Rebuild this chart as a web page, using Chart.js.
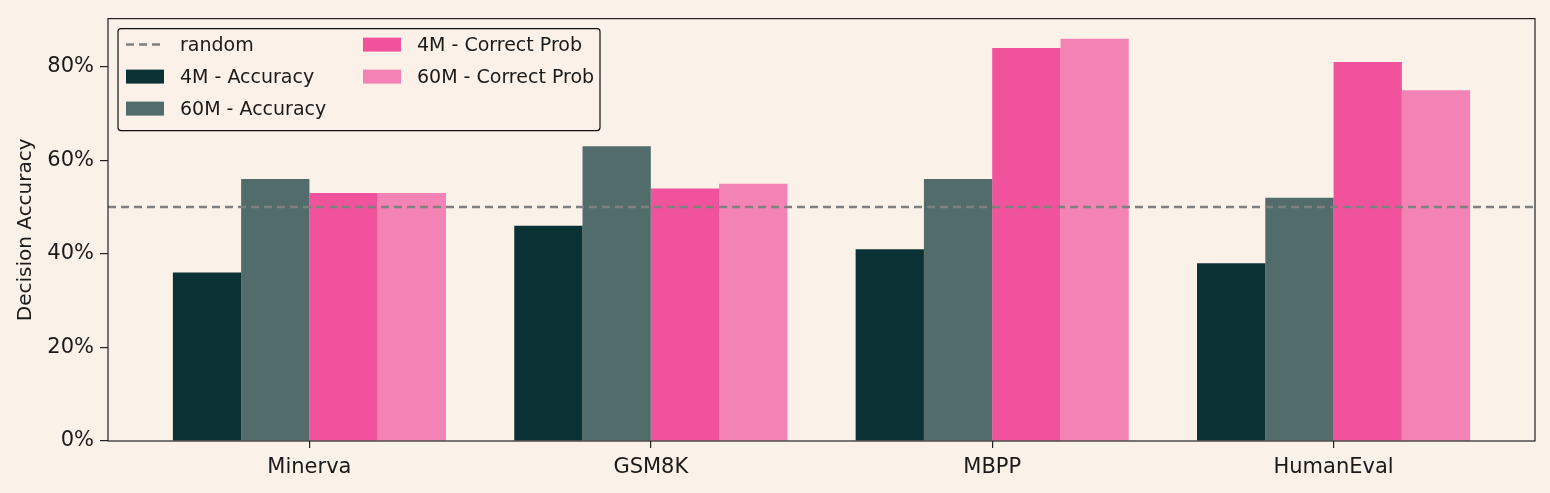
<!DOCTYPE html>
<html>
<head>
<meta charset="utf-8">
<script src="https://cdn.jsdelivr.net/npm/chart.js@4.4.1/dist/chart.umd.min.js"></script>
<style>
  html, body { margin: 0; padding: 0; background: #FAF1E8; }
  #wrap { width: 1550px; height: 493px; }
</style>
</head>
<body>
<div id="wrap"><canvas id="chart" width="1550" height="493"></canvas></div>
<script>
const categories = ['Minerva', 'GSM8K', 'MBPP', 'HumanEval'];
const acc4M = [36, 46, 41, 38];
const acc60M = [56, 63, 56, 52];
const prob4M = [53, 54, 84, 81];
const prob60M = [53, 55, 86, 75];
const randomLevel = 50;
const yTicks = [0, 20, 40, 60, 80];

const seriesNames = ['4M - Accuracy', '60M - Accuracy', '4M - Correct Prob', '60M - Correct Prob'];
const seriesColors = ['#0A3235', '#526B6B', '#F0529C', '#F283B4'];
const seriesValues = [acc4M, acc60M, prob4M, prob60M];

const FONT = 'DejaVu Sans';

function toPoints(vals) {
  return vals.map((v, i) => ({ x: i, y: v }));
}

const barSets = seriesValues.map((vals, k) => ({
  type: 'bar',
  label: seriesNames[k],
  data: toPoints(vals),
  backgroundColor: seriesColors[k],
  borderWidth: 0,
  categoryPercentage: 0.8,
  barPercentage: 1.0,
  order: 2
}));

const xMin = -0.59, xMax = categories.length - 1 + 0.59;

const randomSet = {
  type: 'line',
  label: 'random',
  data: [{ x: xMin, y: randomLevel }, { x: xMax, y: randomLevel }],
  borderColor: '#808080',
  borderWidth: 2.5,
  borderDash: [8, 5],
  pointRadius: 0,
  fill: false,
  order: 0
};

// frame around the plot + legend box
const framePlugin = {
  id: 'frame',
  afterDraw(chart) {
    const { ctx, chartArea: a } = chart;
    ctx.save();
    ctx.strokeStyle = '#222';
    ctx.lineWidth = 1.2;
    ctx.strokeRect(a.left, a.top, a.right - a.left, a.bottom - a.top);

    // legend
    const lx = a.left + 10, ly = a.top + 10, lw = 482, lh = 102;
    ctx.fillStyle = 'rgba(250,241,232,0.85)';
    ctx.strokeStyle = '#111';
    ctx.lineWidth = 1.2;
    ctx.beginPath();
    ctx.roundRect(lx, ly, lw, lh, 3);
    ctx.fill();
    ctx.stroke();

    ctx.font = '19px "' + FONT + '"';
    ctx.textBaseline = 'middle';
    const items = [
      { col: 0, row: 0, label: 'random', dash: true },
      { col: 0, row: 1, label: seriesNames[0], color: seriesColors[0] },
      { col: 0, row: 2, label: seriesNames[1], color: seriesColors[1] },
      { col: 1, row: 0, label: seriesNames[2], color: seriesColors[2] },
      { col: 1, row: 1, label: seriesNames[3], color: seriesColors[3] }
    ];
    items.forEach(it => {
      const hx = lx + 8 + it.col * 237;
      const cy = ly + 16 + it.row * 32;
      if (it.dash) {
        ctx.save();
        ctx.strokeStyle = '#808080';
        ctx.lineWidth = 2.5;
        ctx.setLineDash([8, 5]);
        ctx.beginPath();
        ctx.moveTo(hx, cy);
        ctx.lineTo(hx + 38, cy);
        ctx.stroke();
        ctx.restore();
      } else {
        ctx.fillStyle = it.color;
        ctx.fillRect(hx, cy - 7, 38, 14);
      }
      ctx.fillStyle = '#1a1a1a';
      ctx.fillText(it.label, hx + 54, cy + 1);
    });
    ctx.restore();
  }
};

new Chart(document.getElementById('chart'), {
  data: { datasets: [...barSets, randomSet] },
  options: {
    responsive: false,
    animation: false,
    layout: { padding: { left: 0, right: 15, top: 16, bottom: 0 } },
    plugins: {
      legend: { display: false },
      tooltip: { enabled: false }
    },
    scales: {
      x: {
        type: 'linear',
        min: xMin,
        max: xMax,
        offset: false,
        afterBuildTicks: s => { s.ticks = categories.map((c, i) => ({ value: i })); },
        afterFit: s => { s.height = 52; },
        ticks: {
          callback: v => categories[v],
          color: '#1a1a1a',
          font: { family: FONT, size: 21 },
          padding: 7,
          maxRotation: 0,
          autoSkip: false
        },
        grid: { offset: false, drawOnChartArea: false, tickLength: 7, tickColor: '#222', lineWidth: 1.2 },
        border: { display: false }
      },
      y: {
        type: 'linear',
        min: 0,
        max: 90.3,
        afterBuildTicks: s => { s.ticks = yTicks.map(v => ({ value: v })); },
        afterFit: s => { s.width = 108; },
        ticks: {
          callback: v => v + '%',
          color: '#1a1a1a',
          font: { family: FONT, size: 21 },
          padding: 6
        },
        grid: { drawOnChartArea: false, tickLength: 8, tickColor: '#222', lineWidth: 1.2 },
        border: { display: false },
        title: {
          display: true,
          text: 'Decision Accuracy',
          color: '#1a1a1a',
          font: { family: FONT, size: 20 },
          padding: { top: 14, bottom: 0 }
        }
      }
    }
  },
  plugins: [framePlugin]
});
</script>
</body>
</html>
